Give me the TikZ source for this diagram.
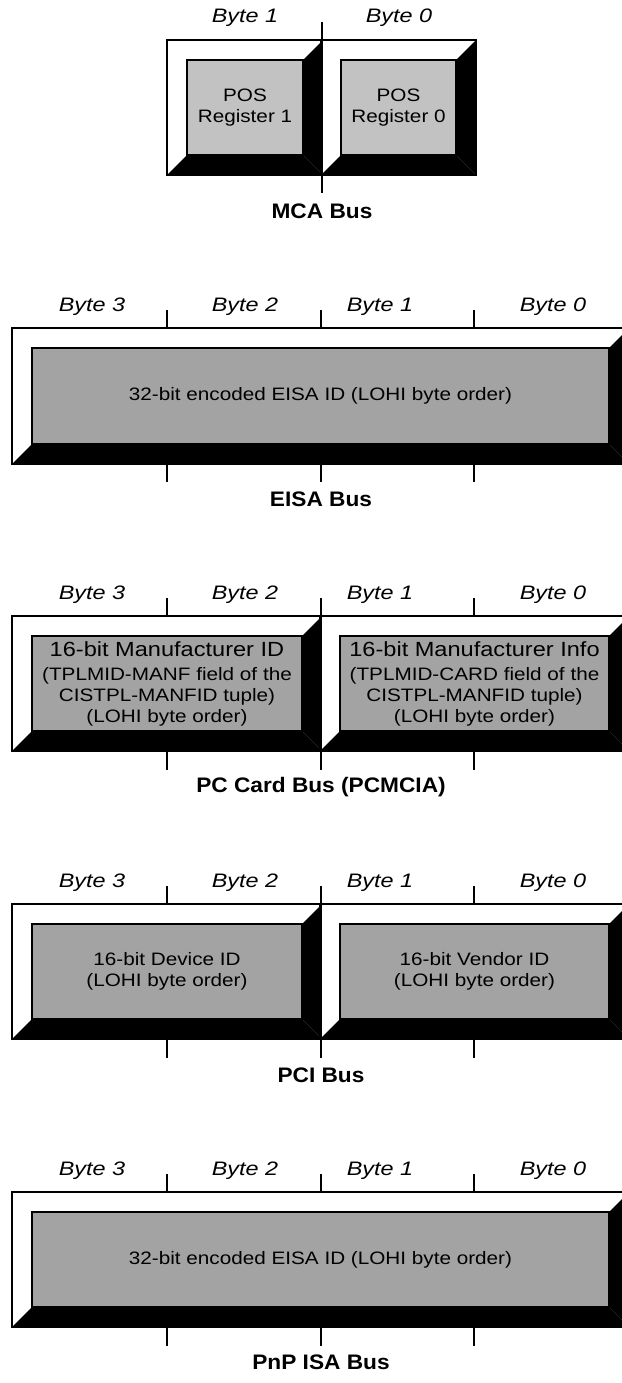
\documentclass[tikz,border=0pt]{standalone}
\usepackage{fontspec}
\setmainfont{Liberation Sans}
\newfontfamily\boxfont[FakeStretch=1.15]{Liberation Sans}
\newfontfamily\bytefont[FakeStretch=1.2]{Liberation Sans}
\newfontfamily\busfont[FakeStretch=1.08]{Liberation Sans}
\usetikzlibrary{calc,backgrounds}

\begin{document}
\begin{tikzpicture}[
    x=1pt, y=-1pt,
    reg/.style={draw, line width=1.8pt, inner sep=0pt, minimum height=95pt, align=center,
        font=\boxfont\fontsize{18}{21}\selectfont, fill=black!36},
    bytelbl/.style={font=\bytefont\itshape\fontsize{19.5}{22}\selectfont},
    buslbl/.style={font=\busfont\bfseries\fontsize{21}{24}\selectfont},
    tick/.style={line width=2.6pt},
    frame/.style={fill=white, draw=black, line width=1.4pt}
]
\useasboundingbox (0,0) rectangle (621,1383);

% inner registers
\node[reg, minimum width=116pt, fill=black!24] (reg1) at (245,107.5) {POS\\Register 1};
\node[reg, minimum width=115pt, fill=black!24] (reg0) at (398.5,107.5) {POS\\Register 0};
\node[reg, minimum width=577pt, minimum height=96pt] (eisaid) at (320.5,396) {32-bit encoded EISA ID (LOHI byte order)};
\node[reg, minimum width=270pt] (manfid) at (167,683.5)
    {{\fontsize{20.5}{24}\selectfont 16-bit Manufacturer ID}\\[3pt](TPLMID-MANF field of the\\CISTPL-MANFID tuple)\\(LOHI byte order)};
\node[reg, minimum width=269pt] (manfinfo) at (474.5,683.5)
    {{\fontsize{20.5}{24}\selectfont 16-bit Manufacturer Info}\\[3pt](TPLMID-CARD field of the\\CISTPL-MANFID tuple)\\(LOHI byte order)};
\node[reg, minimum width=270pt] (devid) at (167,971.5) {16-bit Device ID\\(LOHI byte order)};
\node[reg, minimum width=269pt] (venid) at (474.5,971.5) {16-bit Vendor ID\\(LOHI byte order)};
\node[reg, minimum width=577pt] (pnpid) at (320.5,1259.5) {32-bit encoded EISA ID (LOHI byte order)};

% bevelled frames
\begin{pgfonlayer}{background}
\foreach \n in {reg1,reg0,eisaid,manfid,manfinfo,devid,venid,pnpid} {
    \draw[frame] ($(\n.north west)+(-19,-19)$) rectangle ($(\n.south east)+(19,19)$);
    \fill ($(\n.south west)+(-19,19)$) -- ($(\n.south east)+(19,19)$) -- (\n.south east) -- (\n.south west) -- cycle;
    \fill ($(\n.north east)+(19,-19)$) -- ($(\n.south east)+(19,19)$) -- (\n.south east) -- (\n.north east) -- cycle;
}
\end{pgfonlayer}

% byte boundaries
\draw[tick] (322,22) -- (322,193);
\foreach \t in {329,617,905,1193}
    \foreach \x in {167,321,474} {
        \draw[tick] (\x,\t-19) -- (\x,\t);
        \draw[tick] (\x,\t+134) -- (\x,\t+153);
    }
\draw[tick] (321,617) -- (321,751);
\draw[tick] (321,905) -- (321,1039);

% byte labels
\node[bytelbl] (mca1) at (245,18) {Byte 1};
\node[bytelbl] (mca0) at (399,18) {Byte 0};
\foreach \y/\s in {307/eisa,595/pccard,883/pci,1171/pnp} {
    \node[bytelbl] (\s3) at (92,\y) {Byte 3};
    \node[bytelbl] (\s2) at (245,\y) {Byte 2};
    \node[bytelbl] (\s1) at (380,\y) {Byte 1};
    \node[bytelbl] (\s0) at (553,\y) {Byte 0};
}

% bus names
\node[buslbl] (mcabus) at (322,211) {MCA Bus};
\node[buslbl] (eisabus) at (321,499) {EISA Bus};
\node[buslbl] (pccardbus) at (321,787) {PC Card Bus (PCMCIA)};
\node[buslbl] (pcibus) at (321,1075) {PCI Bus};
\node[buslbl] (pnpbus) at (321,1362) {PnP ISA Bus};
\end{tikzpicture}
\end{document}
